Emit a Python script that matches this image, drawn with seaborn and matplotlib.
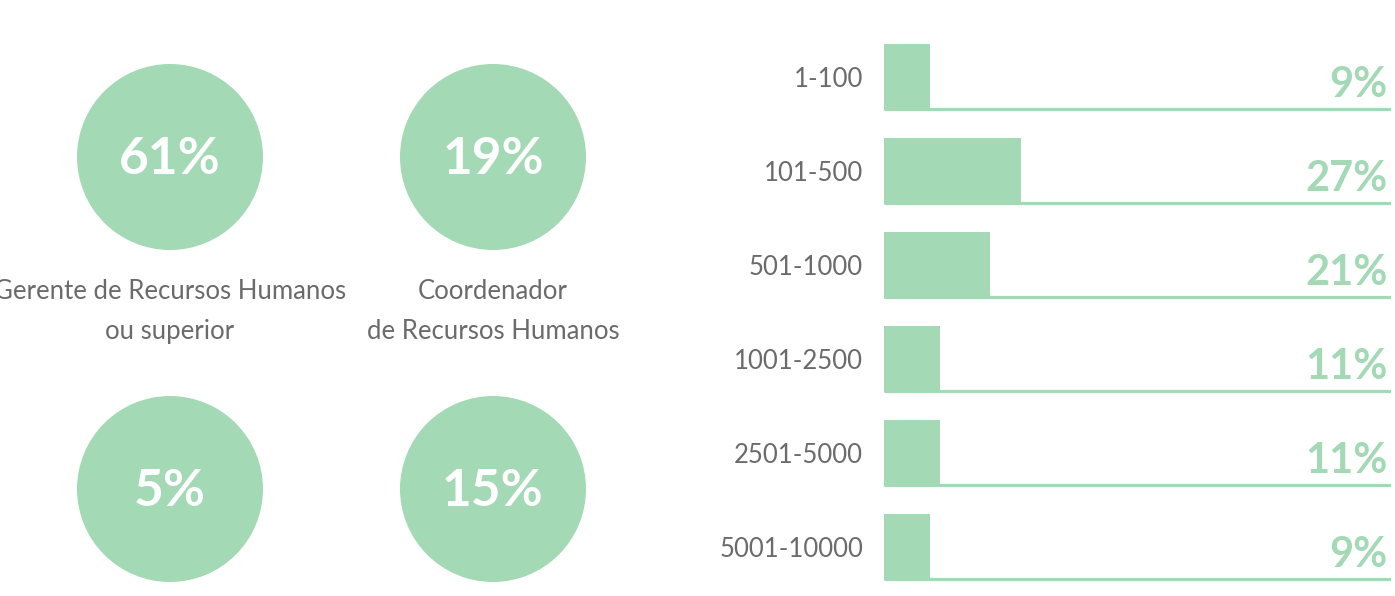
import matplotlib
matplotlib.use("Agg")
import matplotlib.pyplot as plt
from matplotlib.patches import Circle
import seaborn as sns
import pandas as pd

# Data
cargo_labels = ["Gerente de Recursos Humanos\nou superior", "Coordenador\nde Recursos Humanos", "", ""]
cargo_values = [61, 19, 5, 15]

faixas = ["1-100", "101-500", "501-1000", "1001-2500", "2501-5000", "5001-10000"]
faixa_values = [9, 27, 21, 11, 11, 9]

green = "#a3d9b5"
grey = "#6b6b6b"

sns.set_theme(style="white")
plt.rcParams["font.family"] = ["Lato", "DejaVu Sans"]

W, H = 1395, 596
fig = plt.figure(figsize=(W / 100, H / 100), dpi=100)

# left panel: circles, in pixel coordinates
axl = fig.add_axes([0, 0, 700 / W, 1])
axl.set_xlim(0, 700)
axl.set_ylim(H, 0)
axl.axis("off")
centers = [(170, 157), (493, 157), (170, 489), (493, 489)]
for (cx, cy), v, lab in zip(centers, cargo_values, cargo_labels):
    axl.add_patch(Circle((cx, cy), 93, color=green, lw=0))
    axl.text(cx, cy + 2, f"{v}%", color="white", fontsize=37, fontweight="bold",
             ha="center", va="center")
    if lab:
        axl.text(cx, cy + 122, lab, color=grey, fontsize=18.5, fontweight="normal",
                 ha="center", va="top", linespacing=1.75)

# right panel: horizontal bars
left, right = 884, 1391
top, bottom = 30, 594
axr = fig.add_axes([left / W, 1 - bottom / H, (right - left) / W, (bottom - top) / H])
df = pd.DataFrame({"faixa": faixas, "valor": faixa_values})
sns.barplot(data=df, x="valor", y="faixa", color=green, saturation=1, width=0.70,
            orient="h", linewidth=0, ax=axr)
axr.set_xlim(0, 100)
axr.set_ylim(len(faixas) - 0.5, -0.5)
for i, v in enumerate(faixa_values):
    axr.hlines(i + 0.34, 0, 100, color=green, lw=2.3)
    axr.text(99.4, i + 0.21, f"{v}%", color=green, fontsize=30, fontweight="bold",
             ha="right", va="baseline")
axr.set_xlabel("")
axr.set_ylabel("")
axr.set_xticks([])
axr.tick_params(axis="y", length=0, pad=15, labelsize=18.5, labelcolor=grey)
for t in axr.get_yticklabels():
    t.set_fontweight("normal")
sns.despine(ax=axr, left=True, bottom=True)

fig.savefig("out.png", dpi=100)
